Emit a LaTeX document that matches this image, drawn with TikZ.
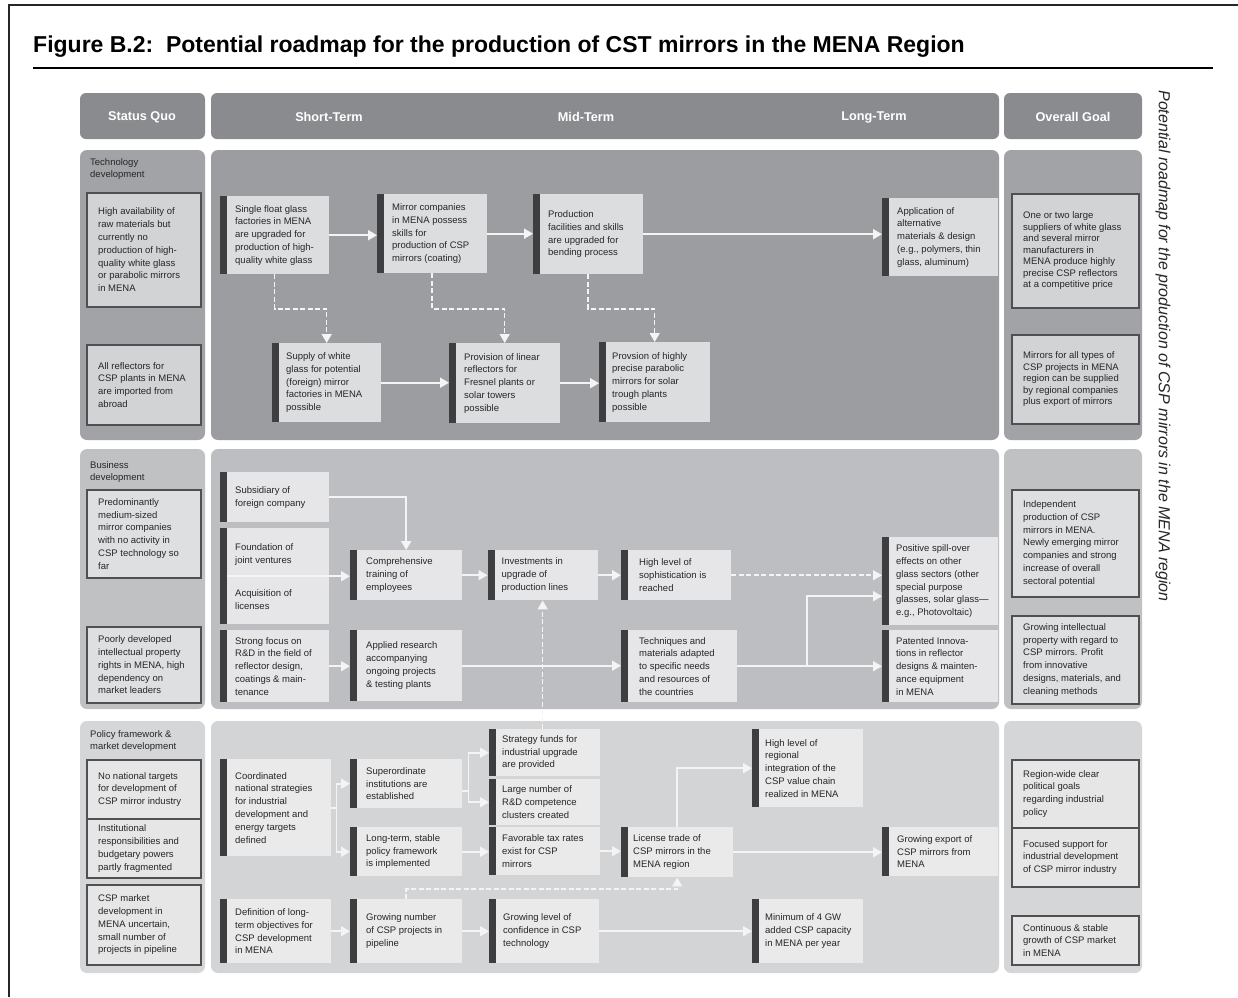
\documentclass[tikz,border=0pt]{standalone}
\usepackage{fontspec}
\setmainfont{Liberation Sans}
\usetikzlibrary{arrows.meta}

\definecolor{hdrc}{HTML}{8A8B8E}
\definecolor{techcol}{HTML}{A2A3A6}
\definecolor{techpan}{HTML}{9C9DA0}
\definecolor{bizcol}{HTML}{C0C1C3}
\definecolor{bizpan}{HTML}{BDBEC1}
\definecolor{polcol}{HTML}{D5D6D8}
\definecolor{polpan}{HTML}{D3D4D6}
\definecolor{sqline}{HTML}{505052}
\definecolor{barc}{HTML}{3E3E40}
\definecolor{flowc}{HTML}{F4F4F4}
\definecolor{nodefill}{HTML}{FFFFFF}
\definecolor{sqfill}{HTML}{FFFFFF}

% stage box with dark bar: [text offset]{name}{left}{top}{width}{height}{text}
\newcommand\stg[7][15]{%
  \node[stagebg, minimum width=#5, minimum height=#6, anchor=north west] (#2) at (#3,#4) {};
  \node[txt, anchor=west] (#2-t) at ([xshift=#1pt]#2.west) {#7};}
% framed status / goal box: [text style]{name}{left}{top}{width}{height}{text}
\newcommand\sqb[7][]{%
  \node[sqbox, minimum width=#5, minimum height=#6, anchor=north west] (#2) at (#3,#4) {};
  \node[txt, anchor=west, #1] (#2-t) at ([xshift=12pt]#2.west) {#7};}

\begin{document}
\begin{tikzpicture}[x=1pt, y=-1pt,
  txt/.style={align=left, inner sep=0pt, text=black!85, font=\fontsize{9.5}{12.8}\selectfont},
  hdrbox/.style={fill=hdrc, rounded corners=6pt},
  hdrtxt/.style={text=white, font=\bfseries\fontsize{12.7}{15}\selectfont},
  panel/.style={rounded corners=7pt},
  stagebg/.style={fill=nodefill, inner sep=0pt,
    path picture={\fill[barc] (path picture bounding box.north west) rectangle ([xshift=7pt]path picture bounding box.south west);}},
  sqbox/.style={fill=sqfill, draw=sqline, line width=1.8pt, inner sep=0pt},
  flow/.style={draw=flowc, line width=1.8pt, -{Triangle[length=9pt,width=10pt]}},
  dflow/.style={flow, line width=1.5pt, dash pattern=on 5pt off 2.5pt},
  goaltight/.style={font=\fontsize{9.5}{11.5}\selectfont}
]
\useasboundingbox[fill=white] (0,0) rectangle (1238,997);

% frame and title
\draw[line width=2.5pt, black!85] (9,997) -- (9,5) -- (1238,5);
\node[anchor=base west, inner sep=0pt, font=\bfseries\fontsize{23}{27}\selectfont] (title) at (33,52)
  {Figure B.2:\ \ Potential roadmap for the production of CST mirrors in the MENA Region};
\draw[line width=2pt] (33,68) -- (1213,68);

% header row
\fill[hdrbox] (80,93) rectangle (205,139);
\fill[hdrbox] (211,93) rectangle (999,139);
\fill[hdrbox] (1004,93) rectangle (1142,139);
\node[hdrtxt] (h1) at (142,117) {Status Quo};
\node[hdrtxt] (h2) at (329,117) {Short-Term};
\node[hdrtxt] (h3) at (586,117) {Mid-Term};
\node[hdrtxt] (h4) at (874,117) {Long-Term};
\node[hdrtxt] (h5) at (1073,117) {Overall Goal};

% section panels
\fill[panel, techcol] (80,150) rectangle (205,440);
\fill[panel, techpan] (211,150) rectangle (999,440);
\fill[panel, techcol] (1004,150) rectangle (1142,440);
\fill[panel, bizcol] (80,449) rectangle (205,709);
\fill[panel, bizpan] (211,449) rectangle (999,709);
\fill[panel, bizcol] (1004,449) rectangle (1142,709);
\fill[panel, polcol] (80,721) rectangle (205,973);
\fill[panel, polpan] (211,721) rectangle (999,973);
\fill[panel, polcol] (1004,721) rectangle (1142,973);

% side caption
\node[rotate=-90, inner sep=0pt, text=black!85, font=\itshape\fontsize{16}{19}\selectfont] (side) at (1163,346)
  {Potential roadmap for the production of CSP mirrors in the MENA region};

% ---------------- technology development ----------------
\node[txt, anchor=west] (lt) at (90,169) {Technology\\development};
\definecolor{nodefill}{HTML}{DCDDDF}
\definecolor{sqfill}{HTML}{D2D3D5}
\sqb{sq1}{86}{192}{114}{114}{High availability of\\raw materials but\\currently no\\production of high-\\quality white glass\\or parabolic mirrors\\in MENA}
\sqb{sq2}{86}{344}{114}{80}{All reflectors for\\CSP plants in MENA\\are imported from\\abroad}
\sqb[goaltight]{g1}{1011}{193}{127}{114}{One or two large\\suppliers of white glass\\and several mirror\\manufacturers in\\MENA produce highly\\precise CSP reflectors\\at a competitive price}
\sqb[goaltight]{g2}{1011}{334}{127}{89}{Mirrors for all types of\\CSP projects in MENA\\region can be supplied\\by regional companies\\plus export of mirrors}

\stg{A}{220}{196}{109}{78}{Single float glass\\factories in MENA\\are upgraded for\\production of high-\\quality white glass}
\stg{B}{377}{194}{110}{79}{Mirror companies\\in MENA possess\\skills for\\production of CSP\\mirrors (coating)}
\stg{C}{533}{194}{110}{80}{Production\\facilities and skills\\are upgraded for\\bending process}
\stg{D}{882}{198}{116}{78}{Application of\\alternative\\materials \& design\\(e.g., polymers, thin\\glass, aluminum)}
\stg[14]{E}{272}{343}{109}{79}{Supply of white\\glass for potential\\(foreign) mirror\\factories in MENA\\possible}
\stg{F}{449}{343}{111}{80}{Provision of linear\\reflectors for\\Fresnel plants or\\solar towers\\possible}
\stg[13]{G}{599}{342}{111}{80}{Provsion of highly\\precise parabolic\\mirrors for solar\\trough plants\\possible}

% ---------------- business development ----------------
\node[txt, anchor=west] (lb) at (90,472) {Business\\development};
\definecolor{nodefill}{HTML}{E6E6E8}
\definecolor{sqfill}{HTML}{DEDFE0}
\sqb{sq3}{86}{489}{114}{88}{Predominantly\\medium-sized\\mirror companies\\with no activity in\\CSP technology so\\far}
\sqb{sq4}{86}{626}{114}{76}{Poorly developed\\intellectual property\\rights in MENA, high\\dependency on\\market leaders}
\sqb{g3}{1011}{489}{127}{107}{Independent\\production of CSP\\mirrors in MENA.\\Newly emerging mirror\\companies and strong\\increase of overall\\sectoral potential}
\sqb{g4}{1011}{615}{127}{88}{Growing intellectual\\property with regard to\\CSP mirrors. Profit\\from innovative\\designs, materials, and\\cleaning methods}

\stg{H}{220}{472}{109}{50}{Subsidiary of\\foreign company}
\node[stagebg, minimum width=109, minimum height=96, anchor=north west] (I) at (220,528) {};
\node[txt, anchor=west] (I-t1) at ([xshift=15pt, yshift=22pt]I.west) {Foundation of\\joint ventures};
\node[txt, anchor=west] (I-t2) at ([xshift=15pt, yshift=-23pt]I.west) {Acquisition of\\licenses};
\stg[16]{J}{350}{550}{112}{50}{Comprehensive\\training of\\employees}
\stg[14]{K}{487.5}{550}{110}{50}{Investments in\\upgrade of\\production lines}
\stg[18]{L}{621}{550}{110}{50}{High level of\\sophistication is\\reached}
\stg[14]{M}{882}{537}{116}{88}{Positive spill-over\\effects on other\\glass sectors (other\\special purpose\\glasses, solar glass—\\e.g., Photovoltaic)}
\stg{N}{220}{630}{109}{72}{Strong focus on\\R\&D in the field of\\reflector design,\\coatings \& main-\\tenance}
\stg[16]{O}{350}{630}{112}{71}{Applied research\\accompanying\\ongoing projects\\\& testing plants}
\stg[18]{P}{621}{630}{116}{72}{Techniques and\\materials adapted\\to specific needs\\and resources of\\the countries}
\stg[14]{Q}{882}{630}{116}{72}{Patented Innova-\\tions in reflector\\designs \& mainten-\\ance equipment\\in MENA}

% ---------------- policy framework ----------------
\node[txt, anchor=west] (lp) at (90,741) {Policy framework \&\\market development};
\definecolor{nodefill}{HTML}{EAEAEB}
\definecolor{sqfill}{HTML}{E6E6E7}
\sqb{sq5}{86}{759}{114}{59}{No national targets\\for development of\\CSP mirror industry}
\sqb{sq6}{86}{818}{114}{59}{Institutional\\responsibilities and\\budgetary powers\\partly fragmented}
\sqb{sq7}{86}{884}{114}{80}{CSP market\\development in\\MENA uncertain,\\small number of\\projects in pipeline}
\sqb{g5}{1011}{759}{127}{68}{Region-wide clear\\political goals\\regarding industrial\\policy}
\sqb{g6}{1011}{827}{127}{59}{Focused support for\\industrial development\\of CSP mirror industry}
\sqb{g7}{1011}{915}{127}{49}{Continuous \& stable\\growth of CSP market\\in MENA}

\stg{R}{220}{759}{111}{97}{Coordinated\\national strategies\\for industrial\\development and\\energy targets\\defined}
\stg[16]{S}{350}{759}{112}{49}{Superordinate\\institutions are\\established}
\stg[16]{T}{350}{827}{112}{49}{Long-term, stable\\policy framework\\is implemented}
\stg[13]{U}{489}{729}{111}{47}{Strategy funds for\\industrial upgrade\\are provided}
\stg[13]{V}{489}{779}{111}{46}{Large number of\\R\&D competence\\clusters created}
\stg[13]{W}{489}{827}{111}{48}{Favorable tax rates\\exist for CSP\\mirrors}
\stg[12]{X}{621}{827}{112}{50}{License trade of\\CSP mirrors in the\\MENA region}
\stg[13]{Y}{752}{729}{111}{78}{High level of\\regional\\integration of the\\CSP value chain\\realized in MENA}
\stg[15]{Z}{882}{827}{116}{49}{Growing export of\\CSP mirrors from\\MENA}
\stg{AA}{220}{899}{111}{64}{Definition of long-\\term objectives for\\CSP development\\in MENA}
\stg[16]{BB}{350}{899}{112}{64}{Growing number\\of CSP projects in\\pipeline}
\stg[14]{CC}{489}{899}{110}{64}{Growing level of\\confidence in CSP\\technology}
\stg[13]{DD}{752}{899}{111}{64}{Minimum of 4 GW\\added CSP capacity\\in MENA per year}

% ---------------- connectors ----------------
% technology
\draw[flow] (A.east) -- (A.east -| B.west);
\draw[flow] (B.east) -- (B.east -| C.west);
\draw[flow] (C.east) -- (C.east -| D.west);
\draw[flow] (E.east) -- (E.east -| F.west);
\draw[flow] (F.east) -- (F.east -| G.west);
\coordinate (tk) at (0,309);
\draw[dflow] (A.south) -- (A.south |- tk) -| (E.north);
\draw[dflow] (B.south) -- (B.south |- tk) -| (F.north);
\draw[dflow] (C.south) -- (C.south |- tk) -| (G.north);

% business
\draw[flow] (H.east) -| (J.north);
\draw[flow] ([xshift=7pt]I.west) -- (I.west -| J.west);
\draw[flow] (J.east) -- (J.east -| K.west);
\draw[flow] (K.east) -- (K.east -| L.west);
\draw[dflow] (L.east) -- (L.east -| M.west);
\draw[flow] (N.east) -- (N.east -| O.west);
\draw[flow] (O.east) -- (O.east -| P.west);
\draw[flow] (P.east) -- (P.east -| Q.west);
\path (P.east) -- (Q.west) coordinate[pos=0.48] (pfork);
\draw[flow] (pfork) |- ([yshift=-15pt]M.west);
\draw[dflow] (U.north -| K.south) -- (K.south);

% policy
\coordinate (rfork) at ([xshift=5pt]R.east);
\draw[flow] (R.east) -- (rfork) |- (S.west);
\draw[flow] (rfork) |- (T.west);
\coordinate (sfork) at ([xshift=6pt,yshift=-7pt]S.east);
\draw[flow] ([yshift=-7pt]S.east) -- (sfork) |- (U.west);
\draw[flow] (sfork) |- (V.west);
\draw[flow] (T.east) -- (T.east -| W.west);
\draw[flow] (W.east) -- (W.east -| X.west);
\draw[flow] (X.north) |- (Y.west);
\draw[flow] (X.east) -- (X.east -| Z.west);
\draw[flow] (AA.east) -- (AA.east -| BB.west);
\draw[flow] (BB.east) -- (BB.east -| CC.west);
\draw[flow] (CC.east) -- (CC.east -| DD.west);
\coordinate (pk) at (0,889);
\draw[dflow] (BB.north) -- (BB.north |- pk) -| (X.south);
\end{tikzpicture}
\end{document}
